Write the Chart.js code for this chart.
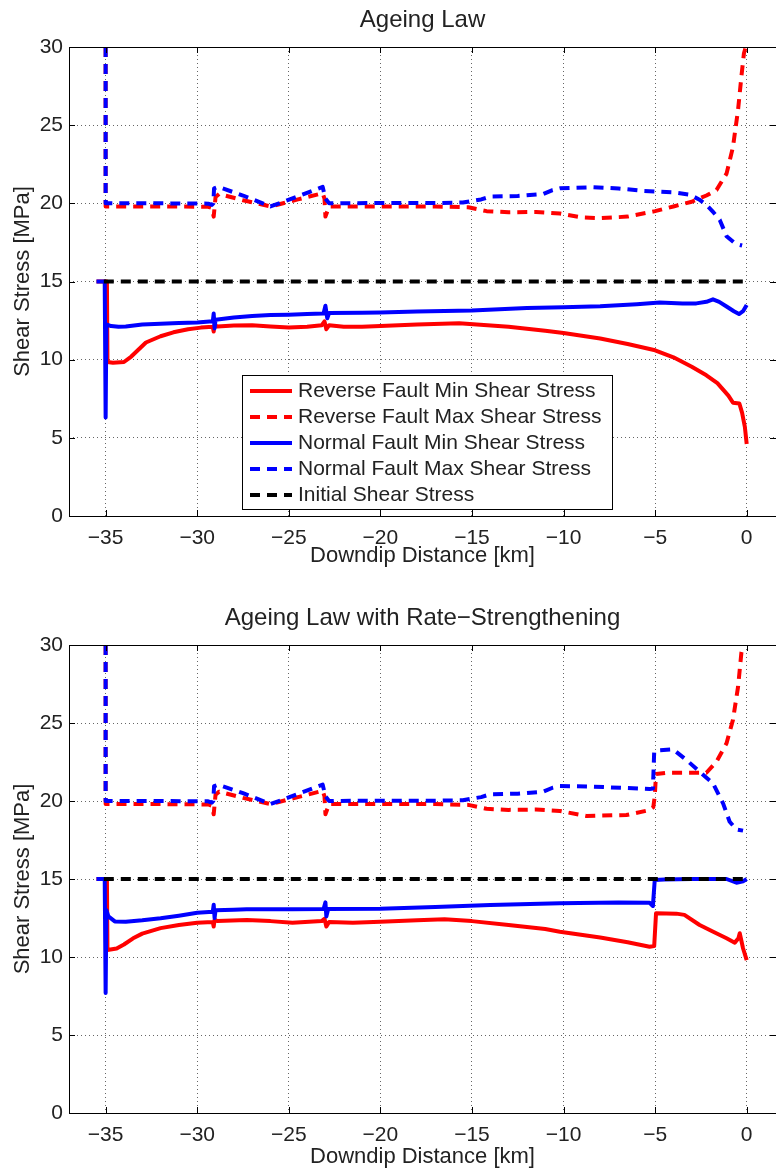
<!DOCTYPE html>
<html>
<head>
<meta charset="utf-8">
<script src="https://cdn.jsdelivr.net/npm/chart.js@4"></script>
<style>
  html, body { margin: 0; padding: 0; background: #fff; }
  #wrap { position: relative; width: 776px; height: 1169px; }
  canvas { position: absolute; left: 0; }
  #chartTop { top: 0; }
  #chartBottom { top: 585px; }
</style>
</head>
<body>
<div id="wrap">
  <canvas id="chartTop" width="776" height="585"></canvas>
  <canvas id="chartBottom" width="776" height="584"></canvas>
</div>
<script>
// tick positions shared by both panels
const xTicks = [-35, -30, -25, -20, -15, -10, -5, 0];
const yTicks = [0, 5, 10, 15, 20, 25, 30];

const seriesLabels = [
  "Reverse Fault Min Shear Stress",
  "Reverse Fault Max Shear Stress",
  "Normal Fault Min Shear Stress",
  "Normal Fault Max Shear Stress",
  "Initial Shear Stress",
];

// [downdip distance km, shear stress MPa] -- ageing law
const topRevMin = [
  [-35.5, 15], [-34.93, 15], [-34.9, 9.85], [-34.6, 9.8], [-34.0, 9.85], [-33.6, 10.2],
  [-33.2, 10.65], [-32.8, 11.1], [-32.0, 11.5], [-31.3, 11.75], [-30.5, 11.95], [-29.8, 12.05],
  [-29.15, 12.1], [-29.1, 11.8], [-29.05, 12.25], [-28.9, 12.12], [-28.0, 12.18], [-27.0, 12.2],
  [-26.0, 12.12], [-25.0, 12.05], [-24.0, 12.1], [-23.2, 12.2], [-23.05, 12.45], [-22.95, 11.95],
  [-22.8, 12.2], [-22.0, 12.1], [-21.0, 12.1], [-20.0, 12.15], [-18.0, 12.25], [-15.7, 12.33],
  [-13.0, 12.1], [-11.0, 11.85], [-10.0, 11.7], [-8.0, 11.35], [-6.5, 11.0], [-5.0, 10.6],
  [-4.0, 10.15], [-3.0, 9.55], [-2.2, 9.0], [-1.6, 8.5], [-1.0, 7.7], [-0.75, 7.25],
  [-0.4, 7.2], [-0.25, 6.6], [-0.1, 5.7], [0, 4.6],
];
const topRevMax = [
  [-35, 30], [-35, 19.8], [-32, 19.8], [-29.4, 19.78], [-29.2, 19.7], [-29.1, 19.15],
  [-29.0, 20.4], [-28.8, 20.6], [-27.5, 20.2], [-26.0, 19.8], [-24.5, 20.25], [-23.15, 20.65],
  [-23.05, 20.3], [-23.0, 19.15], [-22.8, 19.8], [-20, 19.8], [-17, 19.8], [-15.2, 19.75],
  [-14.2, 19.5], [-13, 19.43], [-11.5, 19.45], [-10.2, 19.35], [-9, 19.1], [-8, 19.05],
  [-6.5, 19.15], [-5, 19.5], [-4, 19.8], [-3, 20.1], [-2.2, 20.5], [-1.65, 20.85],
  [-1.1, 21.9], [-0.75, 23.6], [-0.47, 26.0], [-0.29, 28.1], [-0.15, 29.6], [-0.05, 30],
];
const topNormMin = [
  [-35.5, 15], [-35.05, 15], [-35.0, 6.3], [-34.96, 12.25], [-34.7, 12.15], [-34.3, 12.1],
  [-33.9, 12.12], [-33.0, 12.25], [-32.0, 12.3], [-31.0, 12.35], [-30.0, 12.38], [-29.5, 12.43],
  [-29.15, 12.45], [-29.1, 12.95], [-29.05, 12.0], [-29.0, 12.55], [-28.0, 12.7], [-27.0, 12.8],
  [-26.0, 12.85], [-25.0, 12.88], [-24.0, 12.92], [-23.1, 12.95], [-23.0, 13.45], [-22.9, 12.65],
  [-22.8, 12.98], [-21.0, 13.0], [-20.0, 13.02], [-18.0, 13.08], [-15.0, 13.15], [-12.0, 13.3],
  [-10.0, 13.35], [-8.0, 13.42], [-6.0, 13.55], [-4.75, 13.65], [-3.5, 13.6], [-2.75, 13.6],
  [-2.2, 13.7], [-1.84, 13.86], [-1.5, 13.7], [-1.1, 13.4], [-0.7, 13.1], [-0.42, 12.92],
  [-0.2, 13.1], [0, 13.5],
];
const topNormMax = [
  [-35, 30], [-35, 20.0], [-32, 20.0], [-29.4, 19.98], [-29.2, 19.9], [-29.12, 20.0],
  [-29.08, 20.95], [-28.85, 21.05], [-27.5, 20.5], [-26.0, 19.8], [-24.5, 20.45], [-23.15, 21.05],
  [-23.0, 20.3], [-22.8, 20.0], [-20, 20.02], [-17, 20.02], [-15.5, 20.05], [-14.5, 20.25],
  [-14.0, 20.43], [-12.5, 20.47], [-11.1, 20.6], [-10.6, 20.85], [-10.2, 20.96], [-8.4, 21.03],
  [-7.0, 20.95], [-5.7, 20.8], [-4.0, 20.7], [-3.1, 20.55], [-2.6, 20.25], [-2.2, 19.9],
  [-1.8, 19.4], [-1.47, 18.94], [-1.1, 17.9], [-0.7, 17.5], [-0.38, 17.34], [-0.25, 17.3],
];
const topInitial = [[-35.1, 15], [0, 15]];

// ageing law with rate-strengthening
const botRevMin = [
  [-35.5, 15], [-34.93, 15], [-34.9, 10.45], [-34.4, 10.55], [-34.0, 10.8], [-33.5, 11.2],
  [-33.0, 11.5], [-32.0, 11.85], [-31.0, 12.05], [-30.0, 12.2], [-29.15, 12.25], [-29.1, 11.95],
  [-29.05, 12.4], [-28.9, 12.3], [-27.3, 12.37], [-26.0, 12.3], [-24.8, 12.2], [-23.2, 12.3],
  [-23.05, 12.45], [-22.95, 11.95], [-22.8, 12.25], [-21.5, 12.2], [-20.0, 12.26], [-18.0, 12.35],
  [-16.5, 12.42], [-15.0, 12.3], [-13.0, 12.05], [-11.0, 11.8], [-10.2, 11.62], [-8.0, 11.25],
  [-6.5, 10.95], [-5.3, 10.66], [-5.05, 10.7], [-4.95, 12.8], [-3.84, 12.78], [-3.4, 12.7],
  [-2.57, 12.05], [-1.8, 11.6], [-1.1, 11.2], [-0.65, 10.92], [-0.45, 11.2], [-0.38, 11.52],
  [-0.2, 10.56], [0, 9.8],
];
const botRevMax = [
  [-35, 30], [-35, 19.8], [-32, 19.8], [-29.4, 19.78], [-29.2, 19.7], [-29.1, 19.15],
  [-29.0, 20.4], [-28.8, 20.6], [-27.5, 20.2], [-26.0, 19.8], [-24.5, 20.25], [-23.15, 20.65],
  [-23.05, 20.3], [-23.0, 19.15], [-22.8, 19.8], [-20, 19.8], [-17, 19.8], [-15.2, 19.75],
  [-14.2, 19.5], [-13, 19.43], [-11.5, 19.45], [-10.2, 19.36], [-8.75, 19.04], [-6.57, 19.1],
  [-5.3, 19.42], [-5.1, 19.6], [-5.02, 20.28], [-4.95, 21.73], [-4.38, 21.81], [-2.2, 21.81],
  [-1.65, 22.52], [-1.1, 23.7], [-0.75, 25.2], [-0.47, 27.33], [-0.29, 29.5], [-0.2, 30],
];
const botNormMin = [
  [-35.5, 15], [-35.05, 15], [-35.0, 7.7], [-34.96, 13.0], [-34.85, 12.6], [-34.5, 12.28],
  [-33.9, 12.26], [-33.0, 12.35], [-32.0, 12.48], [-31.0, 12.65], [-30.0, 12.84], [-29.15, 12.9],
  [-29.1, 13.35], [-29.05, 12.5], [-29.0, 13.0], [-28.0, 13.03], [-27.3, 13.06], [-26.0, 13.06],
  [-24.8, 13.06], [-23.1, 13.08], [-23.0, 13.5], [-22.95, 12.6], [-22.85, 13.08], [-20.0, 13.1],
  [-17.0, 13.2], [-14.0, 13.33], [-10.2, 13.44], [-7.0, 13.5], [-5.3, 13.48], [-5.12, 13.27],
  [-5.02, 14.94], [-4.5, 14.97], [-3.0, 15.0], [-1.1, 15.0], [-0.56, 14.76], [-0.2, 14.85],
  [0, 15.0],
];
const botNormMax = [
  [-35, 30], [-35, 20.0], [-32, 20.0], [-29.4, 19.98], [-29.2, 19.9], [-29.12, 20.0],
  [-29.08, 20.95], [-28.85, 21.05], [-27.5, 20.5], [-26.0, 19.8], [-24.5, 20.45], [-23.15, 21.05],
  [-23.0, 20.3], [-22.8, 20.0], [-20, 20.02], [-17, 20.02], [-15.5, 20.05], [-14.5, 20.25],
  [-14.0, 20.43], [-12.5, 20.47], [-11.1, 20.6], [-10.6, 20.85], [-10.2, 20.96], [-8.4, 20.92],
  [-5.3, 20.77], [-5.12, 20.8], [-5.05, 23.16], [-4.75, 23.25], [-4.02, 23.31], [-3.29, 22.63],
  [-2.57, 21.88], [-1.84, 21.13], [-1.29, 19.85], [-0.93, 18.67], [-0.56, 18.18], [-0.2, 18.1],
];
const botInitial = [[-35.1, 15], [0, 15]];

const FONT = "'Liberation Sans', Arial, Helvetica, sans-serif";
const TEXT = "#222";

function minusLabel(v) {
  return v < 0 ? "\u2212" + Math.abs(v) : String(v);
}

function line(label, pts, color, dashed, order) {
  return {
    label: label,
    data: pts.map(p => ({ x: p[0], y: p[1] })),
    borderColor: color,
    borderWidth: 4,
    borderDash: dashed ? [10, 7] : [],
    borderJoinStyle: "round",
    pointRadius: 0,
    tension: 0,
    fill: false,
    clip: 0,
    order: order,
  };
}

// axes box with inward tick marks, MATLAB style
const axesBox = {
  id: "axesBox",
  afterDraw(chart) {
    const { ctx, chartArea: a, scales } = chart;
    ctx.save();
    ctx.strokeStyle = "#000";
    ctx.lineWidth = 1;
    ctx.strokeRect(a.left + 0.5, a.top + 0.5, a.right - a.left, a.bottom - a.top);
    ctx.beginPath();
    xTicks.forEach(v => {
      const px = Math.round(scales.x.getPixelForValue(v)) + 0.5;
      ctx.moveTo(px, a.bottom); ctx.lineTo(px, a.bottom - 6);
      ctx.moveTo(px, a.top); ctx.lineTo(px, a.top + 6);
    });
    yTicks.forEach(v => {
      const py = Math.round(scales.y.getPixelForValue(v)) + 0.5;
      ctx.moveTo(a.left, py); ctx.lineTo(a.left + 6, py);
      ctx.moveTo(a.right, py); ctx.lineTo(a.right - 6, py);
    });
    ctx.stroke();
    ctx.restore();
  },
};

// boxed legend drawn inside the plot area
const boxLegend = {
  id: "boxLegend",
  afterDatasetsDraw(chart, args, opts) {
    if (!opts.show) return;
    const ctx = chart.ctx;
    ctx.save();
    ctx.fillStyle = "#fff";
    ctx.fillRect(opts.x, opts.y, opts.w, opts.h);
    ctx.strokeStyle = "#000";
    ctx.lineWidth = 1;
    ctx.strokeRect(opts.x + 0.5, opts.y + 0.5, opts.w, opts.h);
    ctx.font = "21px " + FONT;
    ctx.textBaseline = "middle";
    chart.data.datasets.forEach((ds, i) => {
      const cy = opts.y + 16 + i * 26;
      ctx.beginPath();
      ctx.setLineDash(ds.borderDash);
      ctx.strokeStyle = ds.borderColor;
      ctx.lineWidth = 4;
      ctx.moveTo(opts.x + 8, cy);
      ctx.lineTo(opts.x + 50, cy);
      ctx.stroke();
      ctx.setLineDash([]);
      ctx.fillStyle = TEXT;
      ctx.fillText(ds.label, opts.x + 56, cy);
    });
    ctx.restore();
  },
};

function makeChart(id, title, sets, lay) {
  new Chart(document.getElementById(id), {
    type: "line",
    data: {
      datasets: [
        line(seriesLabels[0], sets[0], "#ff0000", false, 4),
        line(seriesLabels[1], sets[1], "#ff0000", true, 3),
        line(seriesLabels[2], sets[2], "#0000ff", false, 2),
        line(seriesLabels[3], sets[3], "#0000ff", true, 1),
        line(seriesLabels[4], sets[4], "#000000", true, 0),
      ],
    },
    plugins: [axesBox, boxLegend],
    options: {
      responsive: false,
      animation: false,
      devicePixelRatio: 1,
      layout: { padding: { left: 0, right: 0, top: 0, bottom: lay.padBottom } },
      plugins: {
        legend: { display: false },
        tooltip: { enabled: false },
        title: {
          display: true,
          text: title,
          fullSize: false,
          color: TEXT,
          font: { family: FONT, size: 24, weight: "normal", lineHeight: 1.2 },
          padding: { top: lay.titleTop, bottom: 12.6 },
        },
        boxLegend: lay.legend,
      },
      scales: {
        x: {
          type: "linear",
          min: -37,
          max: 1.6,
          afterBuildTicks: s => { s.ticks = xTicks.map(v => ({ value: v })); },
          afterFit: s => { s.height = lay.xHeight; },
          grid: { color: "#666", lineWidth: 1, drawTicks: false },
          border: { display: false, dash: [1, 3] },
          ticks: {
            color: TEXT,
            padding: 10,
            maxRotation: 0,
            font: { family: FONT, size: 21 },
            callback: v => minusLabel(v),
          },
          title: {
            display: true,
            text: "Downdip Distance [km]",
            color: TEXT,
            font: { family: FONT, size: 22, lineHeight: 1 },
            padding: 0,
          },
        },
        y: {
          type: "linear",
          min: 0,
          max: 30,
          afterBuildTicks: s => { s.ticks = yTicks.map(v => ({ value: v })); },
          afterFit: s => { s.width = 69; },
          grid: { color: "#666", lineWidth: 1, drawTicks: false },
          border: { display: false, dash: [1, 3] },
          ticks: {
            color: TEXT,
            padding: 6,
            font: { family: FONT, size: 21 },
            callback: v => String(v),
          },
          title: {
            display: true,
            text: "Shear Stress [MPa]",
            color: TEXT,
            font: { family: FONT, size: 22, lineHeight: 1 },
            padding: { top: 12, bottom: 0 },
          },
        },
      },
    },
  });
}

makeChart("chartTop", "Ageing Law",
  [topRevMin, topRevMax, topNormMin, topNormMax, topInitial],
  { titleTop: 5.6, xHeight: 51, padBottom: 18,
    legend: { show: true, x: 242, y: 375, w: 370, h: 134 } });

makeChart("chartBottom", "Ageing Law with Rate\u2212Strengthening",
  [botRevMin, botRevMax, botNormMin, botNormMax, botInitial],
  { titleTop: 18.6, xHeight: 55, padBottom: 1,
    legend: { show: false } });
</script>
</body>
</html>
